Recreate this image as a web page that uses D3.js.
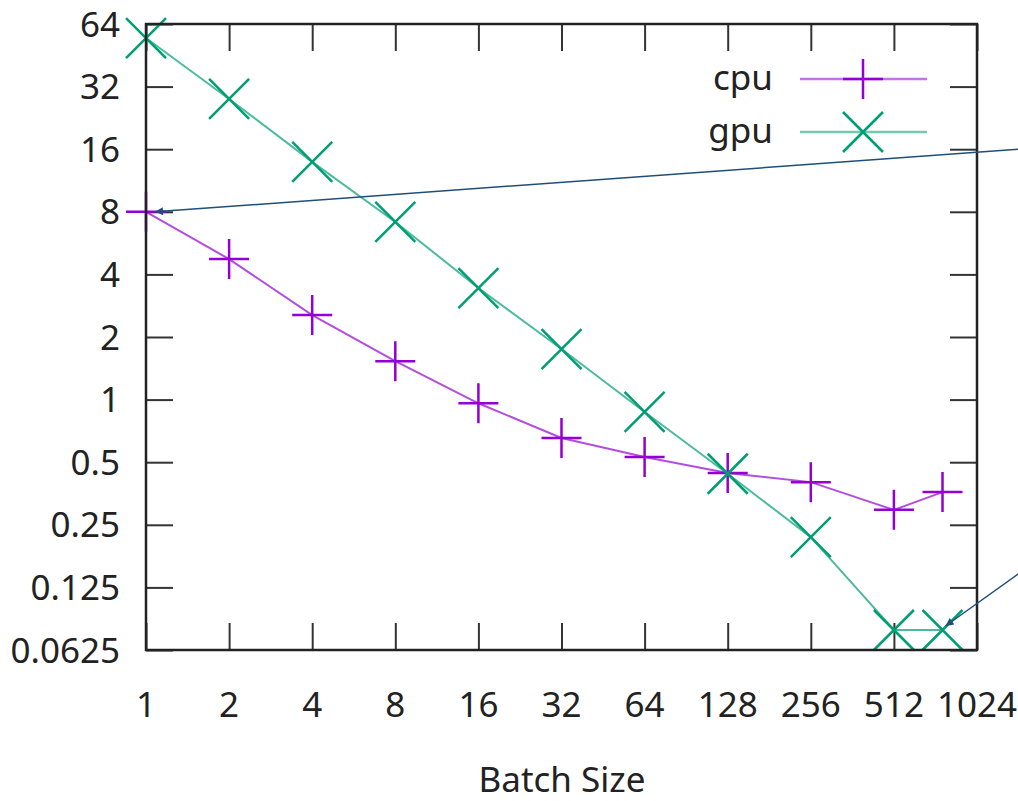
<!DOCTYPE html>
<html lang="en">
<head>
<meta charset="UTF-8">
<title>cpu vs gpu by batch size</title>
<script src="https://d3js.org/d3.v7.min.js"></script>
<style>
  html, body { margin: 0; padding: 0; background: #fff; }
  svg text { font-family: "Noto Sans", "Open Sans", sans-serif; fill: #222; }
</style>
</head>
<body>
<script>
// data
const batchSizes = [1, 2, 4, 8, 16, 32, 64, 128, 256, 512, 768];
const cpuTimes = [8.0, 4.74, 2.55, 1.53, 0.96, 0.654, 0.53, 0.444, 0.401, 0.295, 0.359];
const gpuTimes = [54.8, 27.9, 13.9, 7.15, 3.44, 1.75, 0.872, 0.44, 0.218, 0.078, 0.078];

const xTicks = [1, 2, 4, 8, 16, 32, 64, 128, 256, 512, 1024];
const yTicks = [0.0625, 0.125, 0.25, 0.5, 1, 2, 4, 8, 16, 32, 64];
const yTickLabels = ["0.0625", "0.125", "0.25", "0.5", "1", "2", "4", "8", "16", "32", "64"];

const seriesNames = ["cpu", "gpu"];
const xLabel = "Batch Size";

// callout arrows: start on the right edge at a y value, end on a data point
const callouts = [
  { startY: 16, series: 0, index: 0, dx: 9, dy: 0 },
  { startY: 0.147, series: 1, index: 10, dx: 3, dy: -4 }
];

// layout
const w = 1018, h = 801;
const plotL = 146, plotR = 977, plotT = 24, plotB = 650;
const tickLen = 27;
const fontSize = 35;
const colors = ["#9400d3", "#009e73"];
const markerHalf = 20;

const svg = d3.select("body").append("svg")
  .attr("width", w)
  .attr("height", h);

svg.append("defs").append("marker")
  .attr("id", "arrow")
  .attr("viewBox", "0 0 10 10")
  .attr("refX", 10).attr("refY", 5)
  .attr("markerWidth", 12).attr("markerHeight", 8)
  .attr("markerUnits", "userSpaceOnUse")
  .attr("orient", "auto")
  .append("path")
  .attr("d", "M0,0 L10,5 L0,10 z")
  .attr("fill", "#1f4e79");

const x = d3.scaleLog().base(2).domain([1, 1024]).range([plotL, plotR]);
const y = d3.scaleLog().base(2).domain([0.0625, 64]).range([plotB, plotT]);

// ticks on all four sides, pointing inward
const xAxisBottom = d3.axisBottom(x).tickValues(xTicks).tickSize(-tickLen).tickFormat("");
const xAxisTop = d3.axisTop(x).tickValues(xTicks).tickSize(-tickLen).tickFormat("");
const yAxisLeft = d3.axisLeft(y).tickValues(yTicks).tickSize(-tickLen).tickFormat("");
const yAxisRight = d3.axisRight(y).tickValues(yTicks).tickSize(-tickLen).tickFormat("");

[[xAxisBottom, `translate(0,${plotB})`], [xAxisTop, `translate(0,${plotT})`],
 [yAxisLeft, `translate(${plotL},0)`], [yAxisRight, `translate(${plotR},0)`]].forEach(([ax, tr]) => {
  const g = svg.append("g").attr("transform", tr).call(ax);
  g.select(".domain").remove();
  g.selectAll(".tick line").attr("stroke", "#333").attr("stroke-width", 2);
});

// tick labels
svg.append("g").selectAll("text")
  .data(xTicks)
  .join("text")
  .attr("x", d => x(d))
  .attr("y", 717)
  .attr("text-anchor", "middle")
  .attr("font-size", fontSize)
  .text(d => d);

svg.append("g").selectAll("text")
  .data(yTicks)
  .join("text")
  .attr("x", 120)
  .attr("y", d => y(d) + 12.5)
  .attr("text-anchor", "end")
  .attr("font-size", fontSize)
  .text((d, i) => yTickLabels[i]);

svg.append("text")
  .attr("x", 562)
  .attr("y", 792)
  .attr("text-anchor", "middle")
  .attr("font-size", fontSize)
  .text(xLabel);

// series
const series = [cpuTimes, gpuTimes];
const line = d3.line().x(d => x(d[0])).y(d => y(d[1]));

const plusPath = s => `M${-s},0H${s}M0,${-s}V${s}`;
const crossPath = s => `M${-s},${-s}L${s},${s}M${-s},${s}L${s},${-s}`;
const markerPaths = [plusPath, crossPath];

series.forEach((vals, si) => {
  const pts = batchSizes.map((b, i) => [b, vals[i]]);
  svg.append("path")
    .datum(pts)
    .attr("d", line)
    .attr("fill", "none")
    .attr("stroke", colors[si])
    .attr("stroke-opacity", 0.7)
    .attr("stroke-width", 2);
  svg.append("g").selectAll("path")
    .data(pts)
    .join("path")
    .attr("transform", d => `translate(${x(d[0])},${y(d[1])})`)
    .attr("d", markerPaths[si](markerHalf))
    .attr("fill", "none")
    .attr("stroke", colors[si])
    .attr("stroke-width", 2.5);
});

// frame
svg.append("rect")
  .attr("x", plotL).attr("y", plotT)
  .attr("width", plotR - plotL).attr("height", plotB - plotT)
  .attr("fill", "none")
  .attr("stroke", "#222")
  .attr("stroke-width", 2.5);

// legend
const legend = svg.append("g");
seriesNames.forEach((name, si) => {
  const ly = 79 + si * 53;
  legend.append("text")
    .attr("x", 773).attr("y", ly + 11)
    .attr("text-anchor", "end")
    .attr("font-size", fontSize)
    .text(name);
  legend.append("line")
    .attr("x1", 800).attr("x2", 927)
    .attr("y1", ly).attr("y2", ly)
    .attr("stroke", colors[si])
    .attr("stroke-opacity", 0.55)
    .attr("stroke-width", 2.5);
  legend.append("path")
    .attr("transform", `translate(863,${ly})`)
    .attr("d", markerPaths[si](markerHalf))
    .attr("fill", "none")
    .attr("stroke", colors[si])
    .attr("stroke-width", 2.5);
});

// callout arrows
callouts.forEach(c => {
  const tx = x(batchSizes[c.index]) + c.dx;
  const ty = y(series[c.series][c.index]) + c.dy;
  svg.append("line")
    .attr("x1", w + 2).attr("y1", y(c.startY))
    .attr("x2", tx).attr("y2", ty)
    .attr("stroke", "#1f4e79")
    .attr("stroke-width", 1.5)
    .attr("marker-end", "url(#arrow)");
});
</script>
</body>
</html>
